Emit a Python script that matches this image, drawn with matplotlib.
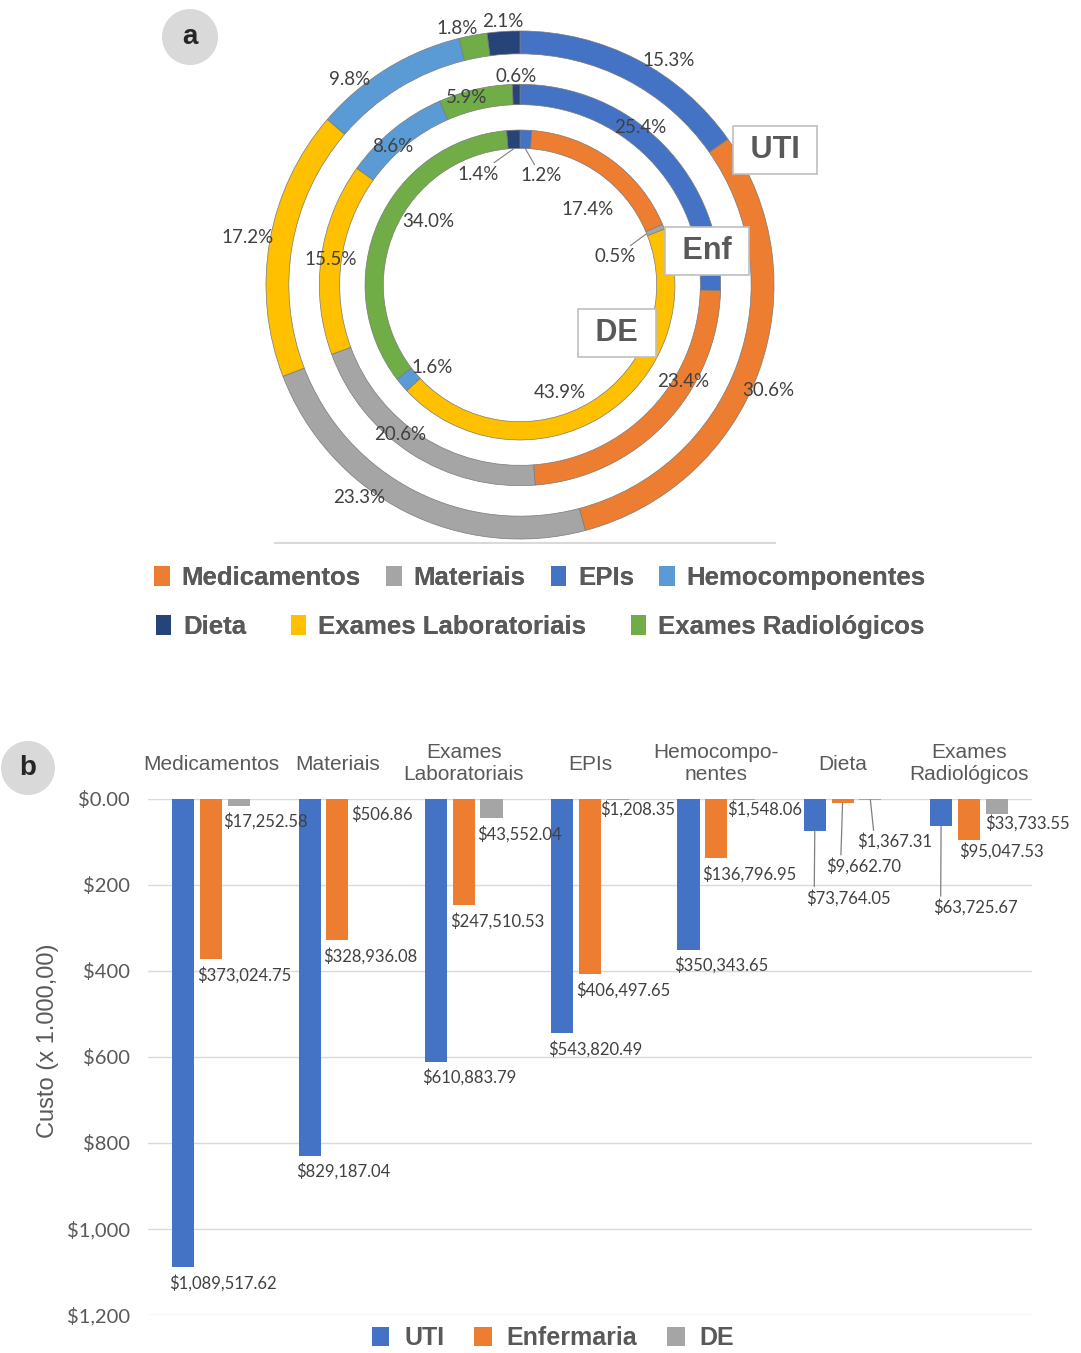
import matplotlib.pyplot as plt
import numpy as np
from matplotlib.patches import Patch, Ellipse
from matplotlib.lines import Line2D

# data (costs in R$)
categories = ['Medicamentos', 'Materiais', 'Exames Laboratoriais', 'EPIs',
              'Hemocomponentes', 'Dieta', 'Exames Radiológicos']
cat_labels = ['Medicamentos', 'Materiais', 'Exames\nLaboratoriais', 'EPIs',
              'Hemocompo-\nnentes', 'Dieta', 'Exames\nRadiológicos']
series = ['UTI', 'Enfermaria', 'DE']
uti = [1089517.62, 829187.04, 610883.79, 543820.49, 350343.65, 73764.05, 63725.67]
enf = [373024.75, 328936.08, 247510.53, 406497.65, 136796.95, 9662.70, 95047.53]
de = [17252.58, 506.86, 43552.04, 1208.35, 1548.06, 1367.31, 33733.55]

ytick_vals = [0, 200, 400, 600, 800, 1000, 1200]
ytick_labels = ['$0.00', '$200', '$400', '$600', '$800', '$1,000', '$1,200']

# donut: clockwise order from the top, ring names
ring_order = [3, 0, 1, 2, 4, 6, 5]
ring_names = ['UTI', 'Enf', 'DE']
legend_rows = [[0, 1, 3, 4], [5, 2, 6]]

# styles
cat_colors = ['#ED7D31', '#A5A5A5', '#FFC000', '#4472C4', '#5B9BD5', '#264478', '#70AD47']
ser_colors = ['#4472C4', '#ED7D31', '#A5A5A5']
txt_grey = '#595959'
lab_grey = '#404040'

W, H = 1081, 1353
fig = plt.figure(figsize=(W / 100, H / 100), dpi=100)
plt.rcParams['font.family'] = ['Liberation Sans', 'DejaVu Sans']
num_font = ['Lato', 'DejaVu Sans']

# ---------------- (a) donut ----------------
ax1 = fig.add_axes([236 / W, 1 - 569 / H, 568 / W, 568 / H])
ring_r = [1.0, 0.79, 0.61]
ring_w = [0.09, 0.08, 0.072]
# label radius / angle nudge (deg) per wedge, in ring_order sequence
lab_r = [[1.06, 1.06, 1.05, 1.09, 1.05, 1.04, 1.04],
         [0.78, 0.745, 0.756, 0.753, 0.74, 0.768, 0.82],
         [0.437, 0.40, 0.39, 0.45, 0.476, 0.44, 0.467]]
lab_nudge = [[-6, -3, -10, 0, 8, 3, 0],
             [8.5, 13, -6, 0, 3.5, 3, 0],
             [-8.7, -6, -5.6, -11.7, 3.1, -10.6, 18.2]]
leaders = {(2, 0), (2, 2), (2, 6)}

for k, vals in enumerate([uti, enf, de]):
    v = np.array([vals[i] for i in ring_order])
    cols = [cat_colors[i] for i in ring_order]
    ax1.pie(v, radius=ring_r[k], startangle=90, counterclock=False, colors=cols,
            wedgeprops=dict(width=ring_w[k], edgecolor='#7a7a7a', linewidth=0.5))
    frac = v / v.sum()
    start = np.concatenate([[0], np.cumsum(frac)[:-1]])
    mid = 90 - 360 * (start + frac / 2)
    for j in range(len(v)):
        a = np.deg2rad(mid[j] + lab_nudge[k][j])
        tx, ty = lab_r[k][j] * np.cos(a), lab_r[k][j] * np.sin(a)
        s = f'{100 * frac[j]:.1f}%'
        if (k, j) in leaders:
            r0 = ring_r[k] - ring_w[k]
            am = np.deg2rad(mid[j])
            ax1.annotate(s, xy=(r0 * np.cos(am), r0 * np.sin(am)), xytext=(tx, ty),
                         ha='center', va='center', fontsize=13.5, family=num_font,
                         color=lab_grey,
                         arrowprops=dict(arrowstyle='-', color='#7f7f7f', lw=0.8,
                                         shrinkA=0, shrinkB=0))
        else:
            ax1.text(tx, ty, s, ha='center', va='center', fontsize=13.5,
                     family=num_font, color=lab_grey)

ax1.set_xlim(-1.118, 1.118)
ax1.set_ylim(-1.118, 1.118)
ax1.set_aspect('equal')
ax1.axis('off')

# ring name boxes
box_pos = [(1.004, 0.531), (0.736, 0.134), (0.382, -0.189)]
for name, (bx, by) in zip(ring_names, box_pos):
    ax1.text(bx, by, f' {name} ', ha='center', va='center', fontsize=22,
             fontweight='bold', color=txt_grey, zorder=5,
             bbox=dict(boxstyle='square,pad=0.3', fc='white', ec='#bfbfbf', lw=1.2))

# separator under donut
fig.add_artist(Line2D([275 / W, 775 / W], [1 - 543 / H] * 2, transform=fig.transFigure,
                      color='#d9d9d9', lw=1.5))

# donut legend, two rows
for row, yy, cs in zip(legend_rows, [578, 627], [1.0, 1.75]):
    handles = [Patch(facecolor=cat_colors[i], edgecolor='none') for i in row]
    lg = fig.legend(handles, [categories[i] for i in row], loc='center',
                    bbox_to_anchor=(540 / W, 1 - yy / H), ncol=len(row), frameon=False,
                    prop=dict(weight='bold', size=18.5), labelcolor=txt_grey,
                    handlelength=0.6, handleheight=0.8, handletextpad=0.45,
                    columnspacing=cs)
    fig.add_artist(lg)

# ---------------- (b) bars ----------------
ax2 = fig.add_axes([148 / W, 1 - 1315 / H, 884 / W, 516 / H])
x = np.arange(len(categories))
bw = 0.175
offs = [-0.22, 0, 0.22]

# label offsets in pixels from bar center: (dx, dy, leader relpos x)
lab_shift = {(2, 0): (-16, -15, None), (2, 3): (-18, -10, None), (2, 4): (-17, -10, None),
             (0, 5): (-9, -67, 0.1), (1, 5): (-16, -63, 0.19), (2, 5): (-13, -42, 0.22),
             (0, 6): (-8, -81, 0.09), (1, 6): (-10, -11, None), (2, 6): (-11, -10, None)}

for s, vals in enumerate([uti, enf, de]):
    v = np.array(vals) / 1000
    ax2.bar(x + offs[s], v, bw, color=ser_colors[s], zorder=3)
    for c in range(len(categories)):
        dx, dy, rp = lab_shift.get((s, c), (-14, -16, None))
        kw = {}
        if rp is not None:
            kw['arrowprops'] = dict(arrowstyle='-', color='#7f7f7f', lw=0.9,
                                    relpos=(rp, 1.0), shrinkA=0, shrinkB=0)
        ax2.annotate(f'${vals[c]:,.2f}', xy=(x[c] + offs[s], v[c]), xytext=(dx, dy),
                     textcoords='offset pixels', ha='left', va='center',
                     fontsize=12, family=num_font, color=lab_grey, zorder=4, **kw)

for c, lab in enumerate(cat_labels):
    ax2.annotate(lab, xy=(x[c], 1), xycoords=ax2.get_xaxis_transform(),
                 xytext=(0, 35), textcoords='offset pixels', ha='center', va='center',
                 fontsize=15, color=txt_grey, linespacing=1.2)

ax2.set_xlim(-0.5, 6.5)
ax2.set_ylim(1200, 0)
ax2.set_yticks(ytick_vals)
ax2.set_yticklabels(ytick_labels, family=num_font, fontsize=14.5, color=txt_grey)
ax2.set_xticks([])
ax2.tick_params(axis='y', length=0, pad=13)
ax2.grid(axis='y', color='#d9d9d9', lw=1)
ax2.set_axisbelow(True)
for sp in ax2.spines.values():
    sp.set_visible(False)

fig.text(48 / W, 1 - 1041 / H, 'Custo (x 1.000,00)', rotation=90, ha='center',
         va='center', fontsize=17, color=txt_grey)

handles = [Patch(facecolor=c, edgecolor='none') for c in ser_colors]
fig.legend(handles, series, loc='center', bbox_to_anchor=(553 / W, 1 - 1338 / H),
           ncol=3, frameon=False, prop=dict(weight='bold', size=18), labelcolor=txt_grey,
           handlelength=0.7, handleheight=0.8, handletextpad=0.6, columnspacing=1.2)

# panel badges
for lab, (bx, by, br) in zip(['a', 'b'], [(190, 37, 28), (28, 768, 27)]):
    fig.add_artist(Ellipse((bx / W, 1 - by / H), 2 * br / W, 2 * br / H,
                           transform=fig.transFigure, fc='#d9d9d9', ec='none'))
    fig.text(bx / W, 1 - by / H, lab, ha='center', va='center', fontsize=20,
             fontweight='bold', color='#262626')

fig.savefig('out.png', dpi=100)
